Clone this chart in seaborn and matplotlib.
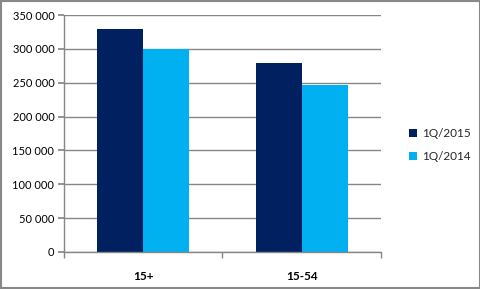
import matplotlib
matplotlib.use("Agg")
import matplotlib.pyplot as plt
import seaborn as sns
import pandas as pd
from matplotlib.ticker import FuncFormatter
from matplotlib.patches import Rectangle

categories = ["15+", "15-54"]
series_names = ["1Q/2015", "1Q/2014"]
values_2015 = [329000, 279000]
values_2014 = [300000, 246500]
colors = ["#002060", "#00B0F0"]

df = pd.DataFrame({
    "cat": categories * 2,
    "series": [series_names[0]] * 2 + [series_names[1]] * 2,
    "value": values_2015 + values_2014,
})

sns.set_theme(style="white")
plt.rcParams["font.family"] = ["Lato", "DejaVu Sans"]

fig = plt.figure(figsize=(4.81, 2.89), dpi=100)
fig.patches.append(Rectangle((1/481, 1/289), 479/481, 287/289, transform=fig.transFigure,
                             fill=False, edgecolor="#888888", linewidth=1.5))
ax = fig.add_axes([64/481, 1-252/289, (381-64)/481, (252-15)/289])

sns.barplot(data=df, x="cat", y="value", hue="series", palette=colors,
            width=0.58, saturation=1, ax=ax, legend=True, linewidth=0)

ax.set_ylim(0, 350000)
ax.set_yticks(range(0, 350001, 50000))
ax.yaxis.set_major_formatter(FuncFormatter(lambda v, p: f"{int(v):,}".replace(",", " ")))
ax.set_xlim(-0.5, 1.5)
ax.set_xlabel("")
ax.set_ylabel("")
ax.grid(axis="y", color="#868686", linewidth=1)
ax.set_axisbelow(True)
for s in ["top", "right"]:
    ax.spines[s].set_visible(False)
for s in ["left", "bottom"]:
    ax.spines[s].set_color("#868686")
    ax.spines[s].set_linewidth(1)

ax.tick_params(axis="y", left=True, length=4, color="#868686", labelsize=8, pad=3, labelcolor="black")
ax.tick_params(axis="x", bottom=False, labelsize=8.5, pad=8, labelcolor="black")
for lbl in ax.get_xticklabels():
    lbl.set_fontweight("bold")
ax.set_xticks([-0.5, 0.5, 1.5], minor=True)
ax.tick_params(axis="x", which="minor", bottom=True, length=4, color="#868686")

handles, labels = ax.get_legend_handles_labels()
ax.legend(handles, labels, loc="center left", bbox_to_anchor=(398/481, 1-145/289),
          bbox_transform=fig.transFigure, frameon=False, fontsize=8.5,
          handlelength=0.7, handleheight=0.7, handletextpad=0.4, labelspacing=1.0)

fig.savefig("out.png", dpi=100)
